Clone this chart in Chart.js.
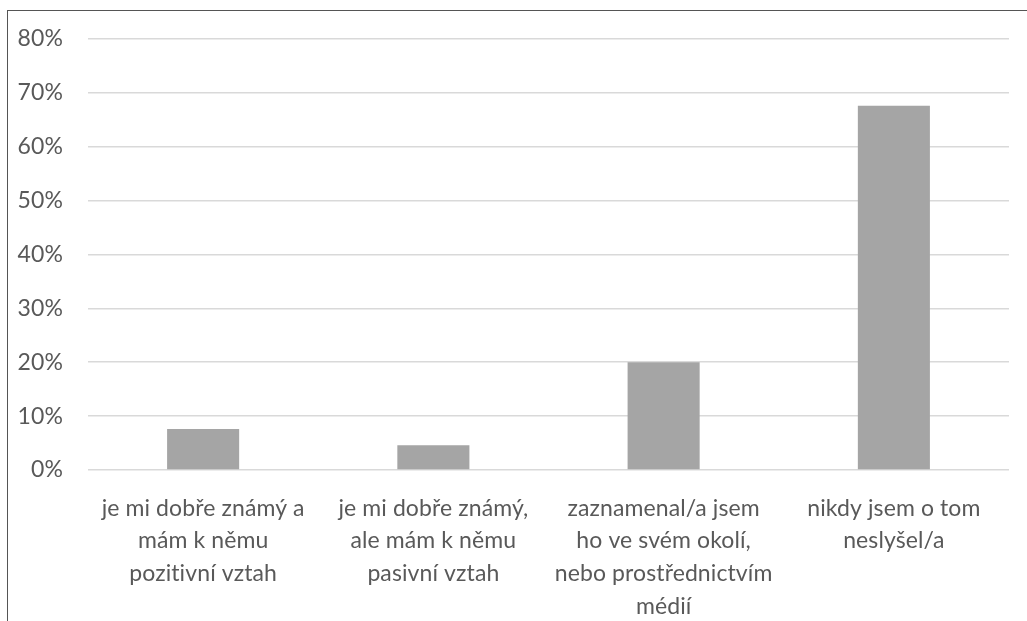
<!DOCTYPE html>
<html><head><meta charset="utf-8">
<script src="https://cdn.jsdelivr.net/npm/chart.js@4"></script>
<style>
html,body{margin:0;padding:0;background:#fff;overflow:hidden}
#wrap{position:relative;width:1027px;height:621px}
#frame{position:absolute;left:7px;top:10px;width:1100px;height:700px;border:1.5px solid #555;box-sizing:border-box}
canvas{position:absolute;left:0;top:0}
</style></head>
<body><div id="wrap"><div id="frame"></div><canvas id="c" width="1027" height="621"></canvas></div>
<script>
const categories = [
  ["je mi dobře známý a","mám k němu","pozitivní vztah"],
  ["je mi dobře známý,","ale mám k němu","pasivní vztah"],
  ["zaznamenal/a jsem","ho ve svém okolí,","nebo prostřednictvím","médií"],
  ["nikdy jsem o tom","neslyšel/a"]
];
const values = [7.6, 4.6, 20.0, 67.6];
const yTicks = [0,10,20,30,40,50,60,70,80];

const noLig = { id: 'noLig', beforeDraw(chart) { try { chart.ctx.letterSpacing = '0.1px'; } catch (e) {} } };

new Chart(document.getElementById('c'), {
  type: 'bar',
  data: { labels: categories, datasets: [{ data: values, backgroundColor: '#a5a5a5', borderWidth: 0, categoryPercentage: 1, barPercentage: 0.313 }] },
  plugins: [noLig],
  options: {
    responsive: false, animation: false,
    layout: { padding: { top: 38, right: 18, left: 0, bottom: 0 } },
    plugins: { legend: { display: false }, tooltip: { enabled: false } },
    scales: {
      x: {
        grid: { display: false }, border: { display: false },
        ticks: { color: '#595959', font: { family: 'Lato', size: 23, lineHeight: 1.42 }, padding: 14, maxRotation: 0, autoSkip: false },
        afterFit: s => { s.height = 151; }
      },
      y: {
        min: 0, max: 80,
        afterBuildTicks: s => { s.ticks = yTicks.map(v => ({ value: v })); },
        grid: { color: '#d9d9d9', lineWidth: 1.5, drawTicks: false }, border: { display: false },
        ticks: { color: '#595959', font: { family: 'Lato', size: 23 }, padding: 25, callback: v => v + '%' },
        afterFit: s => { s.width = 88; }
      }
    }
  }
});
</script></body></html>
